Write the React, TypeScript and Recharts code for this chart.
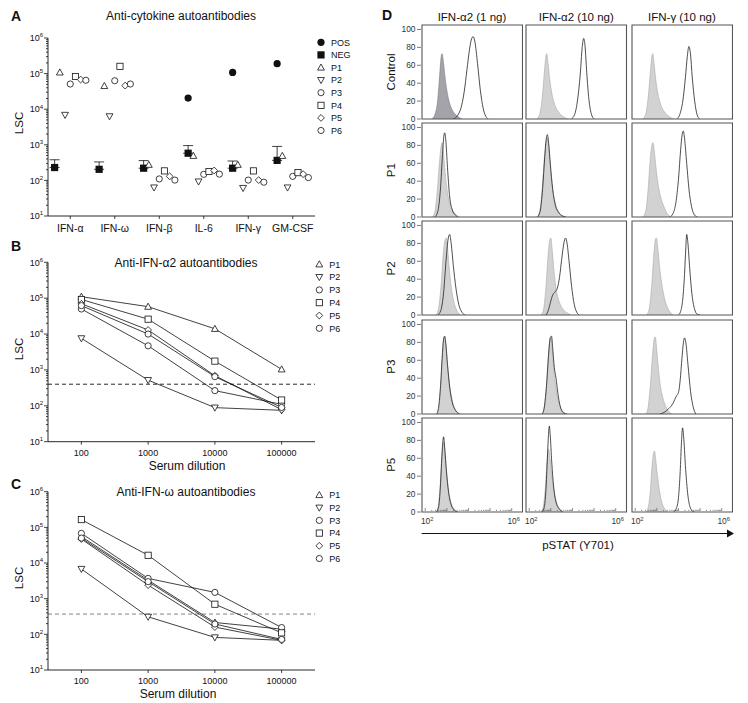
import React from "react";
import {
  ScatterChart,
  Scatter,
  LineChart,
  Line,
  AreaChart,
  Area,
  XAxis,
  YAxis,
  ErrorBar,
  ReferenceLine,
  ReferenceArea,
} from "recharts";

const FONT = "'Liberation Sans', Arial, Helvetica, sans-serif";
const INK = "#111";

// ---------- panel A: anti-cytokine screen ----------
const categories = ["IFN-α", "IFN-ω", "IFN-β", "IL-6", "IFN-γ", "GM-CSF"];
const posA: (number | null)[] = [null, null, null, 20500, 108000, 190000];
const negA = [230, 205, 220, 580, 220, 365];
const negErrTopA = [380, 330, 360, 950, 350, 900];
const p1A = [108000, 45000, 275, 490, 275, 490];
const p2A = [6900, 6300, 63, 93, 61, 63];
const p3A = [51000, 63000, 110, 148, 102, 130];
const p4A = [83000, 160000, 185, 178, 185, 165];
const p5A = [68000, 46000, 130, 190, 102, 150];
const p6A = [65000, 51000, 102, 150, 89, 120];

// ---------- panels B and C: serum dilutions ----------
const dilutions = [100, 1000, 10000, 100000];
const p1B = [110000, 58000, 14000, 1040];
const p2B = [7600, 520, 89, 75];
const p3B = [50000, 4700, 265, 110];
const p4B = [92000, 26000, 1760, 145];
const p5B = [70000, 13000, 690, 78];
const p6B = [62000, 10000, 650, 90];
const cutoffB = 400;

const p1C = [55000, 3300, 215, 140];
const p2C = [6800, 310, 82, 68];
const p3C = [68000, 3700, 1500, 155];
const p4C = [165000, 16500, 700, 110];
const p5C = [47000, 2400, 160, 68];
const p6C = [50000, 3000, 195, 72];
const cutoffC = 370;

const logMajors = [10, 100, 1000, 10000, 100000, 1000000];
const logMinorMult = [2, 3, 4, 5, 6, 7, 8, 9];

// ---------- panel D: pSTAT1 histograms (x = log10 intensity, y = % of max) ----------
type Pt = [number, number];
const histCols = ["IFN-α2 (1 ng)", "IFN-α2 (10 ng)", "IFN-γ (10 ng)"];
const histRowLabels = ["Control", "P1", "P2", "P3", "P5"];
const histYTicks = [0, 20, 40, 60, 80, 100];
const histXLabelled = [2, 6];

const ctrlFill1: Pt[] = [[2.3, 0], [2.45, 5], [2.58, 22], [2.67, 50], [2.74, 70], [2.78, 73], [2.84, 64], [2.92, 46], [3.0, 32], [3.1, 20], [3.25, 10], [3.45, 4], [3.7, 0]];
const ctrlLine1: Pt[] = [[3.3, 0], [3.5, 4], [3.65, 12], [3.8, 30], [3.93, 55], [4.05, 78], [4.15, 90], [4.22, 92], [4.3, 86], [4.42, 62], [4.55, 32], [4.68, 12], [4.8, 3], [4.92, 0]];
const ctrlFill2: Pt[] = [[2.35, 0], [2.48, 5], [2.6, 24], [2.7, 52], [2.77, 70], [2.81, 73], [2.87, 62], [2.95, 44], [3.05, 28], [3.18, 16], [3.35, 8], [3.55, 3], [3.8, 0]];
const ctrlLine2: Pt[] = [[3.95, 0], [4.1, 5], [4.24, 22], [4.36, 50], [4.45, 80], [4.52, 90], [4.58, 82], [4.66, 52], [4.76, 22], [4.87, 6], [5.0, 0]];
const ctrlFill3: Pt[] = [[2.35, 0], [2.48, 5], [2.6, 24], [2.7, 52], [2.77, 70], [2.81, 73], [2.87, 62], [2.95, 44], [3.05, 28], [3.18, 16], [3.35, 8], [3.55, 3], [3.8, 0]];
const ctrlLine3: Pt[] = [[3.92, 0], [4.06, 5], [4.2, 20], [4.32, 46], [4.41, 70], [4.48, 81], [4.55, 74], [4.64, 46], [4.75, 20], [4.86, 5], [4.98, 0]];

const p1Fill1: Pt[] = [[2.32, 0], [2.45, 6], [2.56, 30], [2.66, 62], [2.74, 80], [2.78, 83], [2.84, 72], [2.92, 50], [3.0, 32], [3.1, 18], [3.25, 8], [3.45, 2], [3.6, 0]];
const p1Line1: Pt[] = [[2.45, 0], [2.58, 6], [2.7, 30], [2.8, 70], [2.86, 90], [2.9, 94], [2.95, 86], [3.03, 55], [3.12, 25], [3.25, 8], [3.4, 2], [3.5, 0]];
const p1Fill2: Pt[] = [[2.35, 0], [2.48, 6], [2.6, 32], [2.7, 66], [2.78, 84], [2.84, 88], [2.9, 78], [2.98, 55], [3.08, 32], [3.2, 16], [3.36, 6], [3.55, 1], [3.7, 0]];
const p1Line2: Pt[] = [[2.38, 0], [2.5, 6], [2.62, 32], [2.72, 68], [2.79, 88], [2.84, 92], [2.9, 82], [2.98, 58], [3.08, 32], [3.2, 14], [3.36, 5], [3.55, 1], [3.7, 0]];
const p1Fill3: Pt[] = [[2.35, 0], [2.48, 6], [2.6, 32], [2.7, 66], [2.77, 80], [2.82, 83], [2.88, 74], [2.96, 55], [3.06, 36], [3.18, 22], [3.32, 12], [3.48, 4], [3.65, 0]];
const p1Line3: Pt[] = [[3.6, 0], [3.75, 4], [3.88, 16], [4.0, 42], [4.1, 75], [4.17, 92], [4.22, 96], [4.28, 88], [4.38, 60], [4.5, 28], [4.62, 10], [4.75, 2], [4.88, 0]];

const p2Fill1: Pt[] = [[2.5, 0], [2.62, 8], [2.74, 35], [2.84, 70], [2.92, 84], [2.97, 86], [3.02, 78], [3.1, 55], [3.2, 32], [3.32, 15], [3.46, 5], [3.62, 0]];
const p2Line1: Pt[] = [[2.58, 0], [2.72, 5], [2.85, 25], [2.96, 60], [3.06, 85], [3.13, 90], [3.2, 80], [3.3, 55], [3.42, 30], [3.55, 12], [3.7, 3], [3.86, 0]];
const p2Fill2: Pt[] = [[2.55, 0], [2.66, 6], [2.77, 30], [2.87, 66], [2.95, 84], [3.0, 86], [3.05, 76], [3.14, 50], [3.25, 28], [3.4, 14], [3.58, 6], [3.78, 2], [3.92, 0]];
const p2Line2: Pt[] = [[2.78, 0], [2.88, 5], [2.98, 14], [3.08, 22], [3.2, 26], [3.3, 30], [3.4, 42], [3.5, 62], [3.6, 80], [3.68, 86], [3.75, 80], [3.85, 58], [3.96, 32], [4.08, 12], [4.2, 3], [4.32, 0]];
const p2Fill3: Pt[] = [[2.52, 0], [2.64, 6], [2.76, 32], [2.86, 68], [2.93, 84], [2.98, 86], [3.04, 76], [3.12, 55], [3.22, 36], [3.34, 20], [3.48, 9], [3.62, 3], [3.75, 0]];
const p2Line3: Pt[] = [[4.0, 0], [4.1, 4], [4.2, 18], [4.28, 45], [4.34, 75], [4.38, 90], [4.43, 82], [4.52, 52], [4.62, 24], [4.74, 7], [4.86, 1], [5.0, 0]];

const p3Fill1: Pt[] = [[2.55, 0], [2.64, 8], [2.72, 32], [2.8, 66], [2.86, 84], [2.9, 86], [2.95, 78], [3.03, 55], [3.13, 32], [3.25, 15], [3.4, 5], [3.58, 0]];
const p3Line1: Pt[] = [[2.53, 0], [2.62, 8], [2.71, 32], [2.79, 66], [2.85, 84], [2.9, 87], [2.95, 79], [3.03, 55], [3.13, 30], [3.25, 13], [3.4, 4], [3.6, 0]];
const p3Fill2: Pt[] = [[2.6, 0], [2.7, 8], [2.8, 32], [2.89, 66], [2.96, 83], [3.0, 85], [3.05, 76], [3.13, 52], [3.23, 30], [3.35, 14], [3.5, 5], [3.7, 0]];
const p3Line2: Pt[] = [[2.6, 0], [2.7, 8], [2.8, 32], [2.9, 68], [2.97, 85], [3.03, 87], [3.09, 72], [3.16, 52], [3.24, 40], [3.32, 24], [3.44, 8], [3.6, 1], [3.75, 0]];
const p3Fill3: Pt[] = [[2.5, 0], [2.6, 8], [2.7, 32], [2.8, 66], [2.88, 84], [2.93, 86], [2.98, 76], [3.06, 54], [3.16, 32], [3.28, 18], [3.42, 8], [3.58, 2], [3.7, 0]];
const p3Line3: Pt[] = [[3.15, 0], [3.35, 2], [3.55, 6], [3.75, 12], [3.9, 20], [4.0, 24], [4.08, 38], [4.16, 62], [4.23, 80], [4.28, 85], [4.34, 80], [4.44, 55], [4.56, 25], [4.68, 8], [4.8, 0]];

const p5Fill1: Pt[] = [[2.5, 0], [2.6, 6], [2.68, 26], [2.76, 58], [2.82, 76], [2.85, 78], [2.9, 68], [2.98, 45], [3.08, 24], [3.2, 10], [3.35, 3], [3.5, 0]];
const p5Line1: Pt[] = [[2.52, 0], [2.62, 6], [2.7, 28], [2.77, 62], [2.82, 80], [2.85, 84], [2.9, 72], [2.98, 46], [3.08, 22], [3.2, 8], [3.35, 2], [3.5, 0]];
const p5Fill2: Pt[] = [[2.55, 0], [2.65, 6], [2.74, 26], [2.82, 55], [2.87, 68], [2.9, 70], [2.95, 62], [3.03, 44], [3.13, 26], [3.25, 12], [3.4, 4], [3.58, 0]];
const p5Line2: Pt[] = [[2.6, 0], [2.7, 6], [2.78, 28], [2.85, 66], [2.9, 90], [2.93, 96], [2.97, 86], [3.04, 56], [3.13, 28], [3.25, 10], [3.4, 3], [3.55, 0]];
const p5Fill3: Pt[] = [[2.5, 0], [2.6, 5], [2.7, 24], [2.78, 52], [2.85, 66], [2.89, 68], [2.94, 60], [3.02, 42], [3.12, 24], [3.24, 10], [3.38, 3], [3.5, 0]];
const p5Line3: Pt[] = [[3.78, 0], [3.9, 4], [4.0, 16], [4.08, 45], [4.14, 78], [4.19, 94], [4.24, 84], [4.32, 52], [4.42, 22], [4.53, 6], [4.65, 1], [4.75, 0]];

const histGrid: [Pt[], Pt[]][][] = [
  [[ctrlFill1, ctrlLine1], [ctrlFill2, ctrlLine2], [ctrlFill3, ctrlLine3]],
  [[p1Fill1, p1Line1], [p1Fill2, p1Line2], [p1Fill3, p1Line3]],
  [[p2Fill1, p2Line1], [p2Fill2, p2Line2], [p2Fill3, p2Line3]],
  [[p3Fill1, p3Line1], [p3Fill2, p3Line2], [p3Fill3, p3Line3]],
  [[p5Fill1, p5Line1], [p5Fill2, p5Line2], [p5Fill3, p5Line3]],
];

// ---------- layout ----------
const SLOT = 0.117;
const HIST_X = [1.85, 6.5];
const HIST_Y = [0, 105];
const histColX = [421.7, 526, 631.7];
const histRowY = [25, 123.2, 221.4, 319.6, 417.8];
const BOX_W = 100.5;
const BOX_H = 94;

type Kind = "pos" | "neg" | "up" | "down" | "circle" | "square" | "diamond";
const patientNames = ["P1", "P2", "P3", "P4", "P5", "P6"];
const patientKinds: Kind[] = ["up", "down", "circle", "square", "diamond", "circle"];

function Marker({ kind, cx, cy }: { kind: Kind; cx: number; cy: number }) {
  const sw = 0.8;
  switch (kind) {
    case "pos":
      return <circle cx={cx} cy={cy} r={3.6} fill={INK} />;
    case "neg":
      return <rect x={cx - 3.6} y={cy - 3.6} width={7.2} height={7.2} fill={INK} />;
    case "up":
      return <path d={`M${cx},${cy - 3.5}L${cx + 3.4},${cy + 2.6}L${cx - 3.4},${cy + 2.6}Z`} fill="#fff" stroke={INK} strokeWidth={sw} />;
    case "down":
      return <path d={`M${cx},${cy + 3.5}L${cx + 3.4},${cy - 2.6}L${cx - 3.4},${cy - 2.6}Z`} fill="#fff" stroke={INK} strokeWidth={sw} />;
    case "square":
      return <rect x={cx - 3.1} y={cy - 3.1} width={6.2} height={6.2} fill="#fff" stroke={INK} strokeWidth={sw} />;
    case "diamond":
      return <path d={`M${cx},${cy - 3.4}L${cx + 3.4},${cy}L${cx},${cy + 3.4}L${cx - 3.4},${cy}Z`} fill="#fff" stroke={INK} strokeWidth={sw} />;
    default:
      return <circle cx={cx} cy={cy} r={3.1} fill="#fff" stroke={INK} strokeWidth={sw} />;
  }
}

const isMajor = (v: number) => Math.abs(v - Math.round(v)) < 1e-9;

function LogYTick(props: any) {
  const { x, y, payload } = props;
  const e = Math.log10(payload.value);
  const major = isMajor(e);
  return (
    <g>
      <line x1={x - (major ? 4 : 2)} x2={x} y1={y} y2={y} stroke={INK} strokeWidth={0.8} />
      {major && (
        <text x={x - 5} y={y} dy={3.2} textAnchor="end" fontSize={9} fontFamily={FONT} fill={INK}>
          10
          <tspan dy={-3.8} fontSize={6}>{Math.round(e)}</tspan>
        </text>
      )}
    </g>
  );
}

function CatTick(props: any) {
  const { x, y, payload } = props;
  const idx = Math.round(payload.value - 0.5);
  return (
    <g>
      <line x1={x} x2={x} y1={y} y2={y + 3} stroke={INK} strokeWidth={0.8} />
      <text x={x} y={y + 16} textAnchor="middle" fontSize={10.5} fontFamily={FONT} fill={INK}>
        {categories[idx]}
      </text>
    </g>
  );
}

function DilutionTick(props: any) {
  const { x, y, payload } = props;
  return (
    <g>
      <line x1={x} x2={x} y1={y} y2={y + 3} stroke={INK} strokeWidth={0.8} />
      <text x={x} y={y + 14} textAnchor="middle" fontSize={9} fontFamily={FONT} fill={INK}>
        {payload.value}
      </text>
    </g>
  );
}

function HistYTick(props: any) {
  const { x, y, payload } = props;
  return (
    <g>
      <line x1={x - 5} x2={x - 1} y1={y} y2={y} stroke="#444" strokeWidth={0.7} />
      <text x={x - 6.5} y={y} dy={2.9} textAnchor="end" fontSize={8.4} fontFamily={FONT} fill="#333">
        {payload.value}
      </text>
    </g>
  );
}

function HistXTick(props: any) {
  const { x, y, payload } = props;
  const v = payload.value;
  const major = isMajor(v);
  const labelled = major && histXLabelled.includes(Math.round(v));
  return (
    <g>
      <line x1={x} x2={x} y1={y - 1} y2={y - (major ? 4 : 2.2)} stroke="#444" strokeWidth={0.6} />
      {labelled && (
        <text x={x + 2} y={y + 12} textAnchor="middle" fontSize={8.4} fontFamily={FONT} fill="#333">
          10
          <tspan dy={-3.3} fontSize={5.8}>{Math.round(v)}</tspan>
        </text>
      )}
    </g>
  );
}

const majorsAndMinors = logMajors.flatMap((d, i) =>
  i < logMajors.length - 1 ? [d, ...logMinorMult.map((m) => d * m)] : [d]
);
const histXTicks = [2, 3, 4, 5].flatMap((n) => [n, ...logMinorMult.map((m) => n + Math.log10(m))]).concat([6]);

// ---------- panel A chart ----------
const seriesA: { name: string; kind: Kind; slot: number; values: (number | null)[] }[] = [
  { name: "POS", kind: "pos", slot: -3, values: posA },
  { name: "P1", kind: "up", slot: -2, values: p1A },
  { name: "P2", kind: "down", slot: -1, values: p2A },
  { name: "P3", kind: "circle", slot: 0, values: p3A },
  { name: "P4", kind: "square", slot: 1, values: p4A },
  { name: "P5", kind: "diamond", slot: 2, values: p5A },
  { name: "P6", kind: "circle", slot: 3, values: p6A },
];

const negPoints = negA.map((v, i) => ({ x: i + 0.5 - 3 * SLOT, y: v, err: [0, negErrTopA[i] - v] }));

function PanelA() {
  return (
    <ScatterChart width={380} height={240} margin={{ top: 38, right: 65, bottom: 4, left: 8 }}>
      <XAxis
        type="number"
        dataKey="x"
        domain={[0, 6]}
        ticks={categories.map((_, i) => i + 0.5)}
        interval={0}
        tick={CatTick}
        tickSize={0}
        tickMargin={0}
        tickLine={false}
        height={20}
        axisLine={{ stroke: INK, strokeWidth: 0.9 }}
      />
      <YAxis
        type="number"
        dataKey="y"
        scale="log"
        domain={[10, 1000000]}
        allowDataOverflow
        ticks={majorsAndMinors}
        interval={0}
        tick={LogYTick}
        tickSize={0}
        tickMargin={0}
        tickLine={false}
        width={40}
        axisLine={{ stroke: INK, strokeWidth: 0.9 }}
      />
      <Scatter
        data={negPoints}
        isAnimationActive={false}
        shape={(p: any) => <Marker kind="neg" cx={p.cx} cy={p.cy} />}
      >
        <ErrorBar dataKey="err" direction="y" width={5} stroke={INK} strokeWidth={0.8} isAnimationActive={false} />
      </Scatter>
      {seriesA.map((s) => (
        <Scatter
          key={s.name}
          data={s.values.flatMap((v, i) => (v == null ? [] : [{ x: i + 0.5 + s.slot * SLOT, y: v }]))}
          isAnimationActive={false}
          shape={(p: any) => <Marker kind={s.kind} cx={p.cx} cy={p.cy} />}
        />
      ))}
    </ScatterChart>
  );
}

// ---------- panels B, C ----------
function DilutionPanel({
  series,
  cutoff,
  cutoffColor,
  marginTop,
  marginBottom,
}: {
  series: number[][];
  cutoff: number;
  cutoffColor: string;
  marginTop: number;
  marginBottom: number;
}) {
  return (
    <LineChart width={380} height={222} margin={{ top: marginTop, right: 65, bottom: marginBottom, left: 8 }}>
      <XAxis
        type="number"
        dataKey="x"
        scale="log"
        domain={[31.62, 316228]}
        allowDataOverflow
        ticks={dilutions}
        interval={0}
        tick={DilutionTick}
        tickSize={0}
        tickMargin={0}
        tickLine={false}
        height={18}
        axisLine={{ stroke: INK, strokeWidth: 0.9 }}
      />
      <YAxis
        type="number"
        dataKey="y"
        scale="log"
        domain={[10, 1000000]}
        allowDataOverflow
        ticks={majorsAndMinors}
        interval={0}
        tick={LogYTick}
        tickSize={0}
        tickMargin={0}
        tickLine={false}
        width={40}
        axisLine={{ stroke: INK, strokeWidth: 0.9 }}
      />
      <ReferenceLine y={cutoff} stroke={cutoffColor} strokeDasharray="4 3" strokeWidth={0.9} />
      {series.map((vals, k) => (
        <Line
          key={patientNames[k]}
          data={vals.map((v, i) => ({ x: dilutions[i], y: v }))}
          dataKey="y"
          stroke={INK}
          strokeWidth={0.8}
          isAnimationActive={false}
          activeDot={false}
          dot={(p: any) => <Marker key={`${k}-${p.index}`} kind={patientKinds[k]} cx={p.cx} cy={p.cy} />}
        />
      ))}
    </LineChart>
  );
}

// ---------- panel D ----------
function Hist({ row, col }: { row: number; col: number }) {
  const [fill, line] = histGrid[row][col];
  const first = col === 0;
  const last = row === histRowY.length - 1;
  const yAxisW = 40;
  const xAxisH = 16;
  // extra room below the first column so the "0" tick label is not clipped
  const bottomPad = last ? 0 : first ? 6 : 1;
  const width = (first ? yAxisW : 1) + BOX_W + 1;
  const height = 1 + BOX_H + (last ? xAxisH : bottomPad);
  const darkFill = row === 0 && col === 0;
  return (
    <div style={{ position: "absolute", left: histColX[col] - (first ? yAxisW : 1), top: histRowY[row] - 1 }}>
      <AreaChart width={width} height={height} margin={{ top: 1, right: 1, bottom: bottomPad, left: first ? 0 : 1 }}>
        <XAxis
          type="number"
          dataKey="x"
          domain={HIST_X}
          allowDataOverflow
          hide={!last}
          height={xAxisH}
          ticks={histXTicks}
          interval={0}
          tick={HistXTick}
          tickSize={0}
          tickMargin={0}
          tickLine={false}
          axisLine={false}
        />
        <YAxis
          type="number"
          domain={HIST_Y}
          allowDataOverflow
          hide={!first}
          width={yAxisW}
          ticks={histYTicks}
          interval={0}
          tick={HistYTick}
          tickSize={0}
          tickMargin={0}
          tickLine={false}
          axisLine={false}
        />
        <Area
          data={fill.map(([x, y]) => ({ x, y }))}
          dataKey="y"
          type="monotone"
          fill={darkFill ? "#a4a3aa" : "#d2d2d2"}
          fillOpacity={1}
          stroke={darkFill ? "#7d7c84" : "#a9a9a9"}
          strokeWidth={0.6}
          isAnimationActive={false}
          activeDot={false}
          dot={false}
        />
        <Area
          data={line.map(([x, y]) => ({ x, y }))}
          dataKey="y"
          type="monotone"
          fill="none"
          fillOpacity={0}
          stroke="#222"
          strokeWidth={0.8}
          isAnimationActive={false}
          activeDot={false}
          dot={false}
        />
        <ReferenceArea
          x1={HIST_X[0]}
          x2={HIST_X[1]}
          y1={HIST_Y[0]}
          y2={HIST_Y[1]}
          fill="none"
          fillOpacity={0}
          stroke="#555"
          strokeWidth={1.1}
        />
      </AreaChart>
    </div>
  );
}

function LegendBlock({ x, y, step, items }: { x: number; y: number; step: number; items: { name: string; kind: Kind }[] }) {
  return (
    <g>
      {items.map((it, i) => (
        <g key={it.name + i}>
          <Marker kind={it.kind} cx={x} cy={y + i * step} />
          <text x={x + 10} y={y + i * step} dy={3.2} fontSize={9} fontFamily={FONT} fill={INK}>
            {it.name}
          </text>
        </g>
      ))}
    </g>
  );
}

const legendA = [
  { name: "POS", kind: "pos" as Kind },
  { name: "NEG", kind: "neg" as Kind },
  ...patientNames.map((n, i) => ({ name: n, kind: patientKinds[i] })),
];
const legendP = patientNames.map((n, i) => ({ name: n, kind: patientKinds[i] }));

export default function App() {
  const label = { fontFamily: FONT, fill: INK } as const;
  return (
    <div style={{ position: "absolute", left: 0, top: 0, width: 748, height: 703, background: "#fff", overflow: "hidden" }}>
      <div style={{ position: "absolute", left: 0, top: 0 }}>
        <PanelA />
      </div>
      <div style={{ position: "absolute", left: 0, top: 240 }}>
        <DilutionPanel series={[p1B, p2B, p3B, p4B, p5B, p6B]} cutoff={cutoffB} cutoffColor="#111" marginTop={22.3} marginBottom={2.3} />
      </div>
      <div style={{ position: "absolute", left: 0, top: 470 }}>
        <DilutionPanel series={[p1C, p2C, p3C, p4C, p5C, p6C]} cutoff={cutoffC} cutoffColor="#777" marginTop={21.7} marginBottom={4} />
      </div>
      {histGrid.map((r, ri) => r.map((_, ci) => <Hist key={`${ri}-${ci}`} row={ri} col={ci} />))}

      <svg width={748} height={703} style={{ position: "absolute", left: 0, top: 0, pointerEvents: "none" }}>
        {/* panel letters */}
        <text x={11} y={21} fontSize={14} fontWeight="bold" {...label}>A</text>
        <text x={11} y={251} fontSize={14} fontWeight="bold" {...label}>B</text>
        <text x={11} y={489} fontSize={14} fontWeight="bold" {...label}>C</text>
        <text x={382} y={20} fontSize={14} fontWeight="bold" {...label}>D</text>

        {/* titles */}
        <text x={181} y={20} fontSize={12} textAnchor="middle" {...label}>Anti-cytokine autoantibodies</text>
        <text x={186} y={267} fontSize={12} textAnchor="middle" {...label}>Anti-IFN-α2 autoantibodies</text>
        <text x={186} y={496} fontSize={12} textAnchor="middle" {...label}>Anti-IFN-ω autoantibodies</text>

        {/* axis titles */}
        {[123, 349, 578].map((cy) => (
          <text
            key={cy}
            x={0}
            y={0}
            fontSize={11.5}
            textAnchor="middle"
            transform={`translate(23.3 ${cy}) rotate(-90)`}
            {...label}
          >
            LSC
          </text>
        ))}
        <text x={187} y={469.5} fontSize={12} textAnchor="middle" {...label}>Serum dilution</text>
        <text x={178} y={697.5} fontSize={12} textAnchor="middle" {...label}>Serum dilution</text>

        {/* legends */}
        <LegendBlock x={321} y={42.3} step={12.6} items={legendA} />
        <LegendBlock x={319.3} y={264.3} step={12.8} items={legendP} />
        <LegendBlock x={319.3} y={495} step={12.7} items={legendP} />

        {/* panel D headers */}
        {histCols.map((c, i) => (
          <text key={c} x={histColX[i] + BOX_W / 2} y={21} fontSize={11.5} textAnchor="middle" {...label}>
            {c}
          </text>
        ))}
        {histRowLabels.map((r, i) => (
          <text
            key={r}
            x={0}
            y={0}
            fontSize={11.5}
            textAnchor="middle"
            transform={`translate(394.5 ${histRowY[i] + BOX_H / 2}) rotate(-90)`}
            {...label}
          >
            {r}
          </text>
        ))}
        <line x1={421.7} x2={728} y1={533.5} y2={533.5} stroke={INK} strokeWidth={1} />
        <path d="M727,529.5L734,533.5L727,537.5Z" fill={INK} />
        <text x={578} y={549} fontSize={11.5} textAnchor="middle" {...label}>pSTAT (Y701)</text>
      </svg>
    </div>
  );
}
